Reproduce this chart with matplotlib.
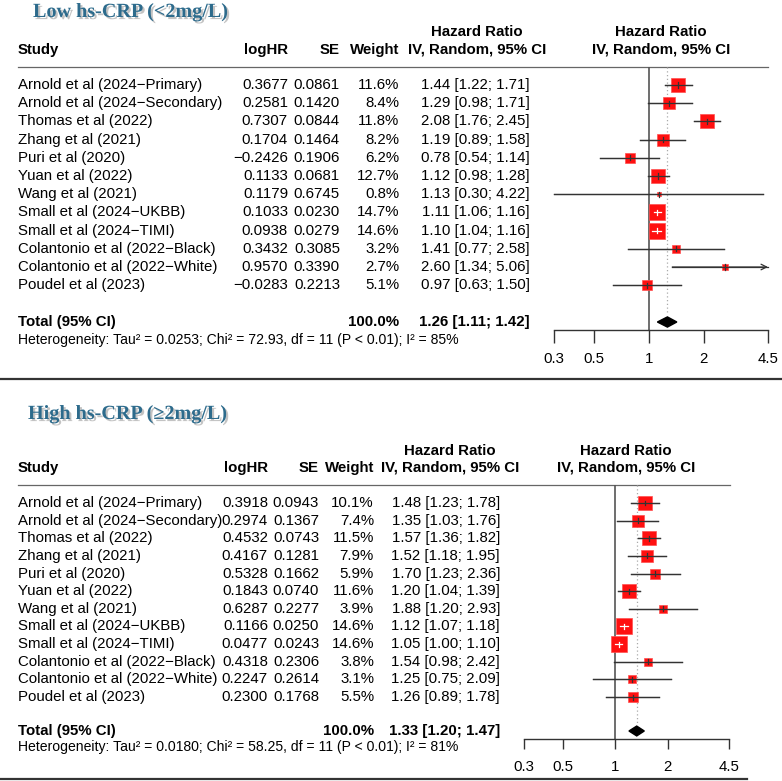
import numpy as np
import matplotlib.pyplot as plt
import matplotlib.patheffects as pe

plt.rcParams['font.family'] = ['Liberation Sans', 'DejaVu Sans']

W, H = 782, 781

# Study labels (same in both subgroups)
studies = ["Arnold et al (2024−Primary)", "Arnold et al (2024−Secondary)",
           "Thomas et al (2022)", "Zhang et al (2021)", "Puri et al (2020)",
           "Yuan et al (2022)", "Wang et al (2021)", "Small et al (2024−UKBB)",
           "Small et al (2024−TIMI)", "Colantonio et al (2022−Black)",
           "Colantonio et al (2022−White)", "Poudel et al (2023)"]

# Low hs-CRP
low_loghr = [0.3677, 0.2581, 0.7307, 0.1704, -0.2426, 0.1133, 0.1179, 0.1033, 0.0938, 0.3432, 0.9570, -0.0283]
low_se = [0.0861, 0.1420, 0.0844, 0.1464, 0.1906, 0.0681, 0.6745, 0.0230, 0.0279, 0.3085, 0.3390, 0.2213]
low_weight = [11.6, 8.4, 11.8, 8.2, 6.2, 12.7, 0.8, 14.7, 14.6, 3.2, 2.7, 5.1]
low_hr = [1.44, 1.29, 2.08, 1.19, 0.78, 1.12, 1.13, 1.11, 1.10, 1.41, 2.60, 0.97]
low_lo = [1.22, 0.98, 1.76, 0.89, 0.54, 0.98, 0.30, 1.06, 1.04, 0.77, 1.34, 0.63]
low_hi = [1.71, 1.71, 2.45, 1.58, 1.14, 1.28, 4.22, 1.16, 1.16, 2.58, 5.06, 1.50]
low_total = [1.26, 1.11, 1.42]
low_het = "Heterogeneity: Tau² = 0.0253; Chi² = 72.93, df = 11 (P < 0.01); I² = 85%"

# High hs-CRP
high_loghr = [0.3918, 0.2974, 0.4532, 0.4167, 0.5328, 0.1843, 0.6287, 0.1166, 0.0477, 0.4318, 0.2247, 0.2300]
high_se = [0.0943, 0.1367, 0.0743, 0.1281, 0.1662, 0.0740, 0.2277, 0.0250, 0.0243, 0.2306, 0.2614, 0.1768]
high_weight = [10.1, 7.4, 11.5, 7.9, 5.9, 11.6, 3.9, 14.6, 14.6, 3.8, 3.1, 5.5]
high_hr = [1.48, 1.35, 1.57, 1.52, 1.70, 1.20, 1.88, 1.12, 1.05, 1.54, 1.25, 1.26]
high_lo = [1.23, 1.03, 1.36, 1.18, 1.23, 1.04, 1.20, 1.07, 1.00, 0.98, 0.75, 0.89]
high_hi = [1.78, 1.76, 1.82, 1.95, 2.36, 1.39, 2.93, 1.18, 1.10, 2.42, 2.09, 1.78]
high_total = [1.33, 1.20, 1.47]
high_het = "Heterogeneity: Tau² = 0.0180; Chi² = 58.25, df = 11 (P < 0.01); I² = 81%"

xticks = [0.3, 0.5, 1, 2, 4.5]
xlim = (0.3, 4.5)

fig = plt.figure(figsize=(W / 100, H / 100), dpi=100)
base = fig.add_axes([0, 0, 1, 1])
base.set_xlim(0, W)
base.set_ylim(H, 0)
base.axis('off')

FS = 10.8
TITLE_COL = '#2d6b8c'


def fmt(v, d):
    return f"{v:.{d}f}".replace('-', '−')


def panel(title, title_x, title_y, hr_y1, head_y, line_y, line_x1, row0, dy,
          c_loghr, c_se, c_w, c_hr, c_hrhead, c_fhead, fx0, fx1, axis_y,
          tot_y, het_y, loghr, se, weight, hr, lo, hi, total, het, ticklen, tpad):
    base.text(title_x, title_y, title, family='Liberation Serif', weight='bold',
              fontsize=14.5, color=TITLE_COL, va='baseline', ha='left',
              path_effects=[pe.withSimplePatchShadow(offset=(1.5, -1.5),
                                                     shadow_rgbFace='#888888', alpha=0.5)])
    hb = dict(fontsize=FS, weight='bold', va='center')
    base.text(18, head_y, "Study", ha='left', **hb)
    base.text(c_loghr, head_y, "logHR", ha='right', **hb)
    base.text(c_se, head_y, "SE", ha='right', **hb)
    base.text(c_w, head_y, "Weight", ha='right', **hb)
    for cx in (c_hrhead, c_fhead):
        base.text(cx, hr_y1, "Hazard Ratio", ha='center', **hb)
        base.text(cx, head_y, "IV, Random, 95% CI", ha='center', **hb)
    base.plot([18, line_x1], [line_y, line_y], color='#666666', lw=0.9)

    for i, s in enumerate(studies):
        y = row0 + dy * i
        base.text(18, y, s, ha='left', va='center', fontsize=FS)
        base.text(c_loghr, y, fmt(loghr[i], 4), ha='right', va='center', fontsize=FS)
        base.text(c_se, y, fmt(se[i], 4), ha='right', va='center', fontsize=FS)
        base.text(c_w, y, fmt(weight[i], 1) + "%", ha='right', va='center', fontsize=FS)
        base.text(c_hr, y, f"{hr[i]:.2f} [{lo[i]:.2f}; {hi[i]:.2f}]", ha='right',
                  va='center', fontsize=FS)
    base.text(18, tot_y, "Total (95% CI)", ha='left', **hb)
    base.text(c_w, tot_y, "100.0%", ha='right', **hb)
    base.text(c_hr, tot_y, f"{total[0]:.2f} [{total[1]:.2f}; {total[2]:.2f}]",
              ha='right', **hb)
    base.text(18, het_y, het, ha='left', va='center', fontsize=10.1)

    # forest axes, y in row units
    ax = fig.add_axes([fx0 / W, 1 - axis_y / H, (fx1 - fx0) / W, (axis_y - line_y) / H])
    ax.set_xscale('log')
    ax.set_xlim(*xlim)
    ybot = (axis_y - row0) / dy
    ytop = (line_y - row0) / dy
    ax.set_ylim(ybot, ytop)
    ax.patch.set_alpha(0)
    for sp in ('top', 'left', 'right'):
        ax.spines[sp].set_visible(False)
    ax.spines['bottom'].set_color('#333333')
    ax.spines['bottom'].set_linewidth(1.0)
    ax.set_yticks([])
    ax.set_xticks(xticks)
    ax.set_xticklabels([str(t) for t in xticks])
    ax.xaxis.set_minor_locator(plt.NullLocator())
    ax.tick_params(axis='x', direction='out', length=ticklen, width=1.0,
                   color='#333333', labelsize=FS, pad=tpad)

    px_per = (fx1 - fx0) / np.log(xlim[1] / xlim[0])
    tot_row = (tot_y - row0) / dy
    ax.plot([1, 1], [ybot, ytop], color='#555555', lw=1.2, zorder=1)
    ax.plot([total[0], total[0]], [ytop, tot_row - 0.45], color='#aaaaaa', lw=0.9,
            ls=(0, (1, 2)), zorder=1)

    for i in range(len(studies)):
        side = 4.1 * np.sqrt(weight[i])
        ci_px = np.log(min(hi[i], xlim[1]) / lo[i]) * px_per
        inside = ci_px < side
        if hi[i] > xlim[1]:
            ax.annotate('', xy=(xlim[1], i), xytext=(lo[i], i), annotation_clip=False,
                        arrowprops=dict(arrowstyle='->', lw=0.9, color='#333333',
                                        shrinkA=0, shrinkB=0))
        else:
            ax.plot([lo[i], hi[i]], [i, i], color='#333333', lw=0.9, zorder=2,
                    clip_on=False)
        ax.plot([hr[i]], [i], marker='s', ms=side * 0.72, color='#ff1010',
                mec='#ff5050', mew=0.5, zorder=3, clip_on=False)
        lc = 'white' if inside else '#333333'
        ax.plot([lo[i], min(hi[i], xlim[1])], [i, i], color=lc, lw=0.9, zorder=4,
                clip_on=False)
        ax.plot([hr[i], hr[i]], [i - 0.14, i + 0.14], color=lc, lw=0.9, zorder=4)

    hh = 0.28
    ax.fill([total[1], total[0], total[2], total[0]],
            [tot_row, tot_row - hh, tot_row, tot_row + hh], color='black', zorder=3)
    return ax


panel("Low hs-CRP (<2mg/L)", 33, 17, 32, 50, 66.5, 768, 85, 18.2,
      288, 340, 399, 530, 477, 661, 554, 768, 330, 322, 340,
      low_loghr, low_se, low_weight, low_hr, low_lo, low_hi, low_total, low_het, 9, 7)

panel("High hs-CRP (≥2mg/L)", 28, 419, 451, 468, 485, 730, 503, 17.64,
      268, 319, 374, 500, 450, 626, 524, 729, 739, 731, 747,
      high_loghr, high_se, high_weight, high_hr, high_lo, high_hi, high_total, high_het, 7, 8)

# separators
base.plot([0, W], [379, 379], color='#333333', lw=1.6)
base.plot([0, 747], [779, 779], color='#333333', lw=1.6)

fig.savefig('out.png', dpi=100)
